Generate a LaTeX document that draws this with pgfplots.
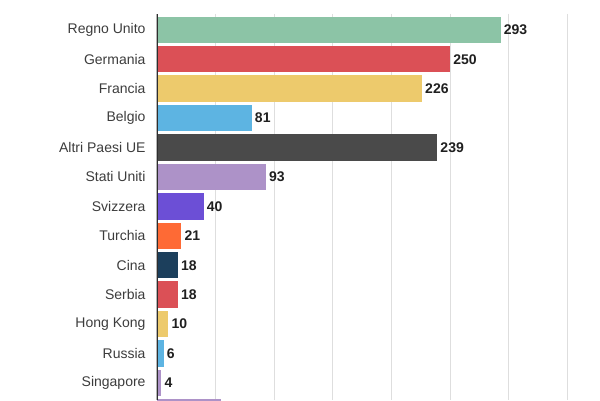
\documentclass[border=0pt]{standalone}
\usepackage{pgfplots}
\pgfplotsset{compat=1.18}
\usepackage{fontspec}
\setmainfont{Liberation Sans}

\definecolor{cgreen}{HTML}{8CC4A6}
\definecolor{cred}{HTML}{DB5056}
\definecolor{cyellow}{HTML}{EDCA6C}
\definecolor{cblue}{HTML}{5DB4E2}
\definecolor{cdark}{HTML}{4A4A4A}
\definecolor{clav}{HTML}{AD92C8}
\definecolor{cpurple}{HTML}{6C4FD6}
\definecolor{corange}{HTML}{FE6A35}
\definecolor{cnavy}{HTML}{1C3F5C}
\definecolor{labgrey}{HTML}{3C3C3C}

\begin{document}
\begin{tikzpicture}[x=1bp,y=1bp]
\useasboundingbox (0,0) rectangle (600,400);
\begin{axis}[
    at={(156.7bp,0bp)}, anchor=south west,
    scale only axis,
    width=443.3bp, height=386.4bp,
    xmin=0, xmax=377.6,
    ymin=-0.55, ymax=12.58,
    y dir=reverse,
    axis lines*=left,
    axis line style={draw=none},
    xtick={50,100,...,350},
    xticklabels={},
    xmajorgrids,
    grid style={draw=black!13, line width=1bp},
    ytick={0,...,13},
    yticklabels={Regno Unito,Germania,Francia,Belgio,Altri Paesi UE,Stati Uniti,Svizzera,Turchia,Cina,Serbia,Hong Kong,Russia,Singapore,{}},
    major tick length=0pt,
    yticklabel style={font=\fontsize{14bp}{16bp}\selectfont, text=labgrey, inner sep=0pt, anchor=east, xshift=-11bp},
    point meta=x,
    nodes near coords,
    nodes near coords style={font=\bfseries\fontsize{14bp}{16bp}\selectfont, text=black!88, anchor=west, inner sep=0pt, xshift=3bp, /pgf/number format/assume math mode=true},
    every axis plot/.append style={xbar, bar width=0.9, bar shift=0pt, draw=none},
    ]
    \addplot[fill=cgreen] coordinates {(293,0)};
    \addplot[fill=cred] coordinates {(250,1)};
    \addplot[fill=cyellow] coordinates {(226,2)};
    \addplot[fill=cblue] coordinates {(81,3)};
    \addplot[fill=cdark] coordinates {(239,4)};
    \addplot[fill=clav] coordinates {(93,5)};
    \addplot[fill=cpurple] coordinates {(40,6)};
    \addplot[fill=corange] coordinates {(21,7)};
    \addplot[fill=cnavy] coordinates {(18,8)};
    \addplot[fill=cred] coordinates {(18,9)};
    \addplot[fill=cyellow] coordinates {(10,10)};
    \addplot[fill=cblue] coordinates {(6,11)};
    \addplot[fill=clav] coordinates {(4,12)};
    \addplot[fill=clav] coordinates {(55,13)};
    \draw[black!82, line width=1.6bp] (rel axis cs:0,0) -- (rel axis cs:0,1);
\end{axis}
\end{tikzpicture}
\end{document}
